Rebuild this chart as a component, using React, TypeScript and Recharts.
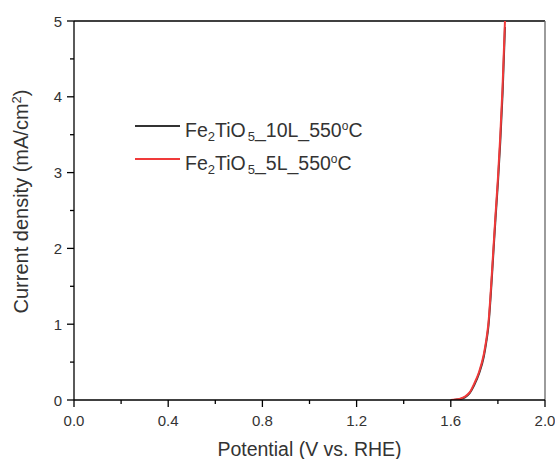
import React from 'react';
import { LineChart, Line, XAxis, YAxis, ReferenceLine, Customized } from 'recharts';

const potential = [1.6, 1.62, 1.64, 1.66, 1.68, 1.7, 1.72, 1.74, 1.75, 1.76, 1.77, 1.78, 1.79, 1.8, 1.81, 1.82, 1.83];
const current10L = [0, 0.004, 0.012, 0.035, 0.09, 0.2, 0.35, 0.57, 0.75, 0.98, 1.4, 1.9, 2.4, 2.86, 3.4, 4.05, 4.92];
const current5L = [0, 0.006, 0.018, 0.045, 0.1, 0.22, 0.37, 0.6, 0.78, 1.02, 1.45, 1.95, 2.45, 2.92, 3.48, 4.15, 5.0];

const xTicks = [0, 0.2, 0.4, 0.6, 0.8, 1.0, 1.2, 1.4, 1.6, 1.8, 2.0];
const yTicks = [0, 0.5, 1, 1.5, 2, 2.5, 3, 3.5, 4, 4.5, 5];

const data10L = potential.map((v, i) => ({ v, j: current10L[i] }));
const data5L = potential.map((v, i) => ({ v, j: current5L[i] }));

const FONT = '"Liberation Sans", Arial, sans-serif';
const TXT = '#333';

const isMultiple = (v: number, step: number) => Math.abs(v / step - Math.round(v / step)) < 1e-6;

const XTick = (props: any) => {
  const { x, y, payload } = props;
  const major = isMultiple(payload.value, 0.4);
  return (
    <g>
      <line x1={x} y1={y} x2={x} y2={y + (major ? 7 : 4)} stroke="#000" strokeWidth={1.3} />
      {major && (
        <text x={x} y={y + 26} textAnchor="middle" fontFamily={FONT} fontSize={15} fill={TXT}>
          {payload.value.toFixed(1)}
        </text>
      )}
    </g>
  );
};

const YTick = (props: any) => {
  const { x, y, payload } = props;
  const major = isMultiple(payload.value, 1);
  return (
    <g>
      <line x1={x} y1={y} x2={x - (major ? 7 : 4)} y2={y} stroke="#000" strokeWidth={1.3} />
      {major && (
        <text x={x - 12} y={y + 5.5} textAnchor="end" fontFamily={FONT} fontSize={15} fill={TXT}>
          {String(payload.value)}
        </text>
      )}
    </g>
  );
};

const Decorations = () => (
  <g fontFamily={FONT} fill={TXT}>
    <text x={309.5} y={456} textAnchor="middle" fontSize={19.5}>Potential (V vs. RHE)</text>
    <text transform="translate(28,201.5) rotate(-90)" textAnchor="middle" fontSize={20}>
      Current density (mA/cm<tspan dy={-7} fontSize={13}>2</tspan>
      <tspan dy={7}>)</tspan>
    </text>
    <line x1={135} y1={126} x2={180} y2={126} stroke="#333" strokeWidth={2} />
    <text x={185} y={137} fontSize={19.5}>
      Fe<tspan dy={4} fontSize={13}>2</tspan>
      <tspan dy={-4}>TiO</tspan>
      <tspan dy={4} dx={2} fontSize={13}>5</tspan>
      <tspan dy={-4}>_10L_550</tspan>
      <tspan dy={-7} fontSize={12}>o</tspan>
      <tspan dy={7}>C</tspan>
    </text>
    <line x1={135} y1={159} x2={180} y2={159} stroke="#f03a3a" strokeWidth={2} />
    <text x={185} y={170} fontSize={19.5}>
      Fe<tspan dy={4} fontSize={13}>2</tspan>
      <tspan dy={-4}>TiO</tspan>
      <tspan dy={4} dx={2} fontSize={13}>5</tspan>
      <tspan dy={-4}>_5L_550</tspan>
      <tspan dy={-7} fontSize={12}>o</tspan>
      <tspan dy={7}>C</tspan>
    </text>
  </g>
);

export default function App() {
  return (
    <div style={{ position: 'absolute', left: 0, top: 0, background: '#fff' }}>
      <LineChart width={555} height={459} margin={{ top: 21, right: 10, bottom: 0, left: 0 }}>
        <XAxis
          dataKey="v"
          type="number"
          domain={[0, 2]}
          ticks={xTicks}
          interval={0}
          height={59}
          tickSize={0}
          tickMargin={0}
          tickLine={false}
          axisLine={{ stroke: '#000', strokeWidth: 1.3 }}
          tick={<XTick />}
          allowDataOverflow
        />
        <YAxis
          type="number"
          domain={[0, 5]}
          ticks={yTicks}
          interval={0}
          width={74}
          tickSize={0}
          tickMargin={0}
          tickLine={false}
          axisLine={{ stroke: '#000', strokeWidth: 1.3 }}
          tick={<YTick />}
          allowDataOverflow
        />
        <ReferenceLine y={5} stroke="#000" strokeWidth={1.3} />
        <ReferenceLine x={2} stroke="#666" strokeWidth={1.3} />
        <Line data={data10L} dataKey="j" type="monotone" stroke="#333" strokeWidth={2} dot={false} isAnimationActive={false} />
        <Line data={data5L} dataKey="j" type="monotone" stroke="#f03a3a" strokeWidth={2} dot={false} isAnimationActive={false} />
        <Customized component={Decorations} />
      </LineChart>
    </div>
  );
}
